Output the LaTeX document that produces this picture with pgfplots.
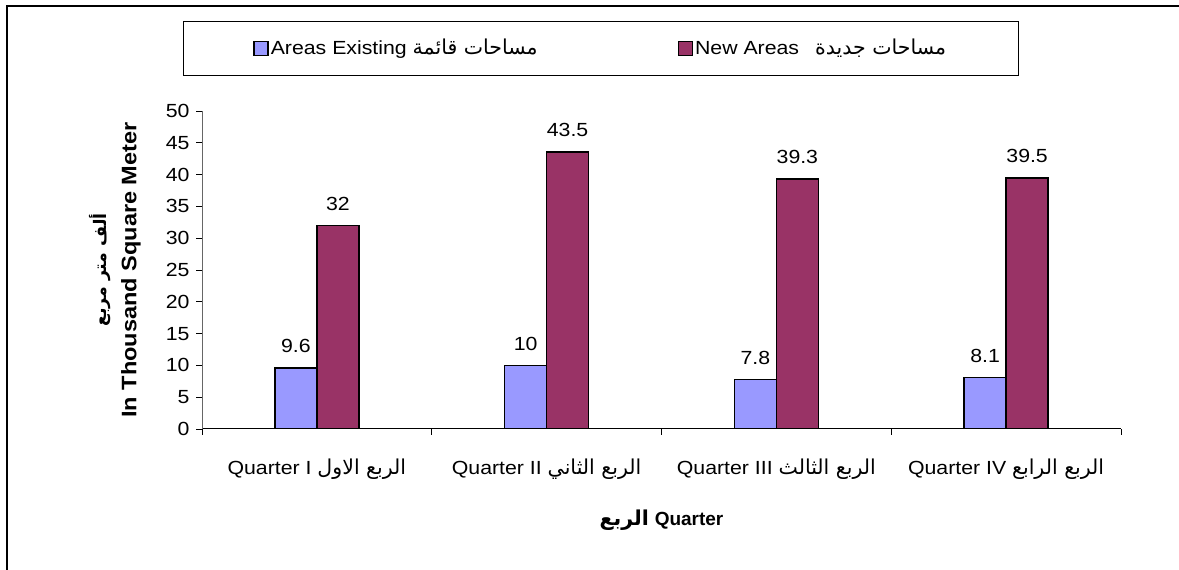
\documentclass[border=0pt]{standalone}
\usepackage{fontspec}
\setmainfont{Liberation Sans}[FakeStretch=1.12]
\newfontfamily\plainfont{Liberation Sans}
\newfontfamily\arabicfont[Script=Arabic,Scale=1.08]{DejaVu Sans}
\usepackage{pgfplots}
\pgfplotsset{compat=1.18}
\TeXXeTstate=1
\definecolor{cblue}{HTML}{9999FF}
\definecolor{cred}{HTML}{993366}
\newcommand\chartfont{\fontsize{19}{23}\selectfont}

\begin{document}
\chartfont
\begin{tikzpicture}[x=1pt,y=1pt]
\clip (0,0) rectangle (1179,570);
\draw[line width=2pt] (7,-10) -- (7,564) -- (1190,564);
\begin{axis}[
  at={(202pt,141pt)}, anchor=south west,
  width=919pt, height=318pt, scale only axis,
  ybar=0pt, bar width=42pt,
  xmin=-0.5, xmax=3.5, ymin=0, ymax=50,
  ytick={0,5,...,50},
  xtick={-0.5,0.5,1.5,2.5,3.5},
  xticklabels={,,,,,},
  extra x ticks={0,1,2,3},
  extra x tick labels={
    {Quarter I {\arabicfont\beginR الربع الاول\endR}},
    {Quarter II {\arabicfont\beginR الربع الثاني\endR}},
    {Quarter III {\arabicfont\beginR الربع الثالث\endR}},
    {Quarter IV {\arabicfont\beginR الربع الرابع\endR}}},
  extra x tick style={major tick length=0pt, xticklabel style={yshift=-23pt}},
  axis x line*=bottom, axis y line*=left,
  x axis line style={black, line width=1pt, -},
  y axis line style={black!60, line width=1pt, -},
  tick align=outside, major tick length=6pt,
  tick style={black, line width=0.8pt},
  /pgf/number format/assume math mode=true,
  ticklabel style={font=\chartfont},
  nodes near coords,
  every node near coord/.append style={font=\chartfont, black, yshift=8pt},
  ylabel={{\fontsize{16}{20}\selectfont\arabicfont\beginR ألف متر مربع\endR}\\[5pt]In Thousand Square Meter},
  ylabel style={at={(axis description cs:-0.0947,0.5)}, anchor=center, align=center, font=\fontsize{21}{25}\selectfont\bfseries},
  xlabel={{\arabicfont\beginR الربع\endR} {\plainfont Quarter}},
  xlabel style={at={(axis description cs:0.5,-0.286)}, anchor=center, font=\chartfont\bfseries},
  legend columns=2,
  legend style={at={(axis description cs:0,1)}, anchor=south west, xshift=-19pt, yshift=35pt,
    draw=black, line width=0.8pt, inner xsep=70pt, inner ysep=16pt, font=\chartfont,
    /tikz/every even column/.append style={column sep=138pt}},
  legend image code/.code={\draw[#1,draw=black,line width=1.4pt] (0pt,-7pt) rectangle (14pt,7pt);},
]
\addplot[fill=cblue, draw=black, line width=1.7pt] coordinates {(0,9.6) (1,10) (2,7.8) (3,8.1)};
\addlegendentry{Areas Existing {\arabicfont\beginR مساحات قائمة\endR}}
\addplot[fill=cred, draw=black, line width=1.7pt] coordinates {(0,32) (1,43.5) (2,39.3) (3,39.5)};
\addlegendentry{New Areas\hspace{16pt}{\arabicfont\beginR مساحات جديدة\endR}}
\end{axis}
\end{tikzpicture}
\end{document}
